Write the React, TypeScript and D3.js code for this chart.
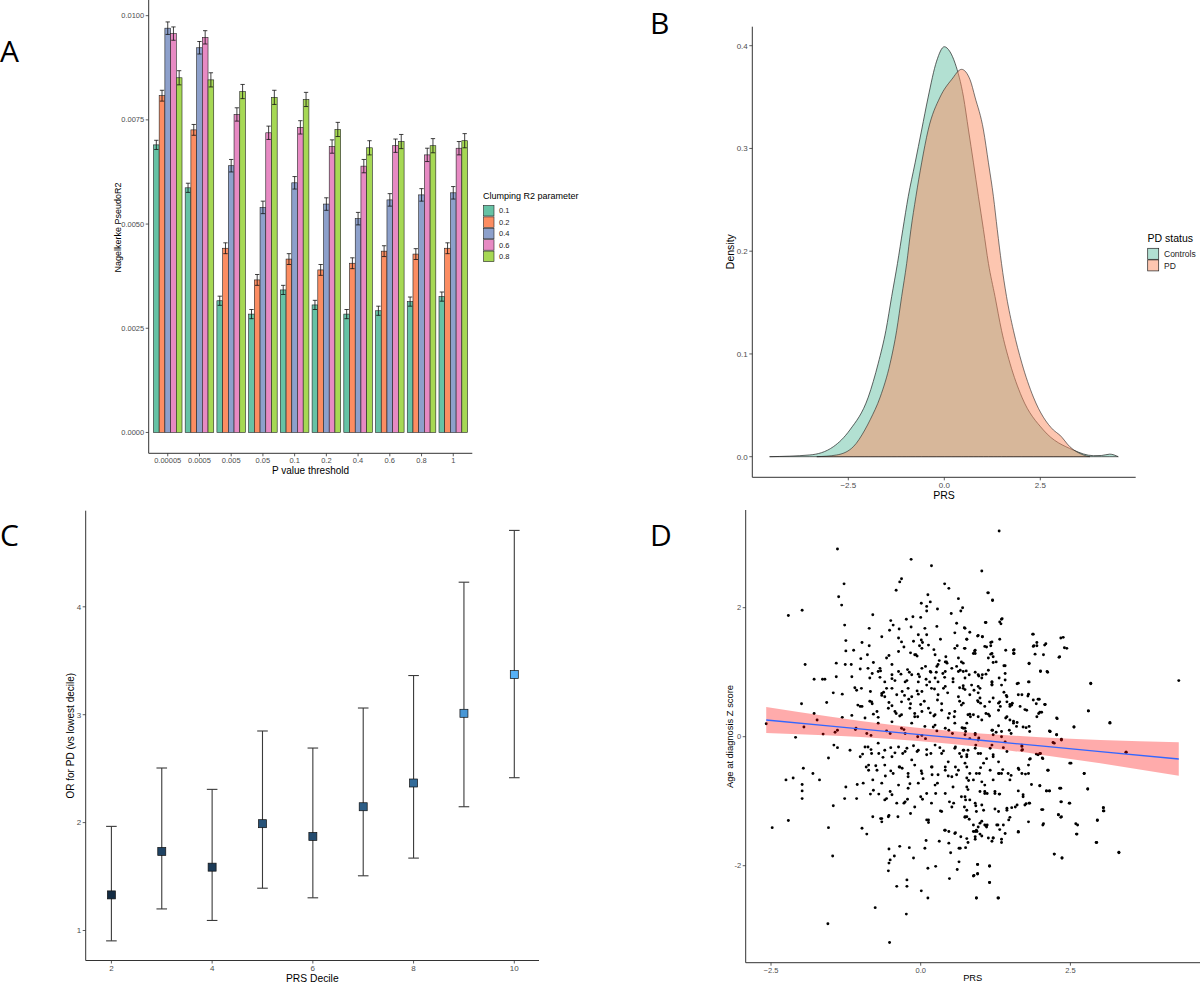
import React from "react";
import * as d3 from "d3";

const FONT = "'Liberation Sans', Arial, Helvetica, sans-serif";
const TICK_COL = "#4D4D4D";
const AXIS_COL = "#333333";

// ---------- Panel A ----------
const thresholds = ["0.00005", "0.0005", "0.005", "0.05", "0.1", "0.2", "0.4", "0.6", "0.8", "1"];
const clumpLevels = ["0.1", "0.2", "0.4", "0.6", "0.8"];
const r2Clump01 = [0.0069, 0.00587, 0.00316, 0.00284, 0.00342, 0.00306, 0.00284, 0.00292, 0.00314, 0.00326];
const r2Clump02 = [0.00808, 0.00726, 0.00442, 0.00366, 0.00416, 0.0039, 0.00406, 0.00435, 0.00428, 0.00442];
const r2Clump04 = [0.0097, 0.00923, 0.0064, 0.0054, 0.00599, 0.00548, 0.00513, 0.00558, 0.0057, 0.00575];
const r2Clump06 = [0.00957, 0.00948, 0.00763, 0.00719, 0.00732, 0.00686, 0.00639, 0.00688, 0.00666, 0.00682];
const r2Clump08 = [0.00851, 0.00846, 0.00818, 0.00804, 0.00799, 0.00727, 0.00683, 0.00698, 0.00688, 0.007];
const r2Se = [0.00011, 0.00013, 0.00015, 0.00016, 0.00017];
const r2Ticks = [0, 0.0025, 0.005, 0.0075, 0.01];
const clumpColors = ["#66C2A5", "#FC8D62", "#8DA0CB", "#E78AC3", "#A6D854"];

// ---------- Panel B ----------
const densControlsX = [-4.55, -3.5, -2.89, -2.46, -1.98, -1.72, -1.52, -1.37, -1.22, -1.08, -0.94, -0.76, -0.59, -0.42, -0.2, 0.0, 0.15, 0.28, 0.5, 0.63, 0.76, 0.89, 1.02, 1.15, 1.32, 1.49, 1.71, 2.02, 2.58, 3.36, 3.88, 4.1, 4.31, 4.53];
const densControlsY = [0, 0.0017, 0.0097, 0.026, 0.058, 0.091, 0.123, 0.156, 0.188, 0.221, 0.253, 0.286, 0.318, 0.35, 0.385, 0.399, 0.394, 0.383, 0.35, 0.318, 0.286, 0.253, 0.221, 0.188, 0.156, 0.123, 0.091, 0.058, 0.026, 0.0065, 0.001, 0.0012, 0.0025, 0];
const densPdX = [-3.32, -2.8, -2.37, -2.07, -1.93, -1.67, -1.41, -1.24, -1.11, -0.98, -0.87, -0.74, -0.59, -0.42, -0.11, 0.19, 0.45, 0.67, 0.8, 1.02, 1.15, 1.28, 1.38, 1.49, 1.62, 1.8, 2.02, 2.32, 2.84, 3.01, 3.27, 3.62, 3.79];
const densPdY = [0, 0.0017, 0.0097, 0.026, 0.036, 0.058, 0.091, 0.123, 0.156, 0.188, 0.221, 0.253, 0.286, 0.318, 0.35, 0.367, 0.377, 0.367, 0.35, 0.318, 0.286, 0.253, 0.221, 0.188, 0.156, 0.123, 0.091, 0.058, 0.026, 0.021, 0.0097, 0.0017, 0];
const densXTicks = [-2.5, 0, 2.5];
const densYTicks = [0, 0.1, 0.2, 0.3, 0.4];
const pdGroups = ["Controls", "PD"];
const pdColors = ["#66C2A5", "#FC8D62"];

// ---------- Panel C ----------
const deciles = [2, 3, 4, 5, 6, 7, 8, 9, 10];
const orEst = [1.33, 1.733, 1.587, 1.99, 1.872, 2.147, 2.367, 3.013, 3.372];
const orLo = [0.904, 1.2, 1.093, 1.392, 1.303, 1.507, 1.671, 2.147, 2.416];
const orHi = [1.965, 2.506, 2.308, 2.849, 2.691, 3.062, 3.363, 4.228, 4.708];
const decileTicks = [2, 4, 6, 8, 10];
const orTicks = [1, 2, 3, 4];

// ---------- Panel D ----------
const scatterOuter: [number, number][] = [
  [1.31, 3.19], [-1.39, 2.91], [-0.16, 2.75], [0.18, 2.65], [1.02, 2.57], [-0.32, 2.45], [-0.35, 2.4], [0.4, 2.37], [0.47, 2.3], [-1.28, 2.37], [-0.41, 2.27], [1.12, 2.23], [0.12, 2.2], [-1.37, 2.17], [0.63, 2.14], [1.2, 2.12], [-1.32, 2.04], [-1.98, 1.96], [0.01, 2.07], [0.16, 2.09], [0.7, 2.0], [0.67, 1.95], [0.28, 1.98], [-2.21, 1.88], [0.1, 1.95], [0.1, 2.02], [0.51, 1.91], [1.36, 1.83], [1.34, 1.75], [-0.13, 1.86], [-0.24, 1.82], [0.0, 1.85], [1.08, 1.77], [-0.5, 1.8], [-0.46, 1.73], [-1.27, 1.73], [0.6, 1.76], [0.27, 1.71], [-0.16, 1.7], [-0.86, 1.68], [-0.36, 1.67], [-0.52, 1.65], [-0.8, 1.89], [0.73, 1.69], [1.87, 1.59], [2.34, 1.53], [0.57, 1.61], [1.03, 1.55], [0.95, 1.56], [0.77, 1.51], [0.1, 1.58], [-0.65, 1.55], [-0.37, 1.53], [0.01, 1.5], [0.03, 1.46], [-1.25, 1.49], [0.33, 1.51], [-0.12, 1.48], [1.19, 1.47], [1.17, 1.41], [1.94, 1.46], [1.89, 1.41], [2.09, 1.44], [-0.98, 1.46], [2.4, 1.38], [1.42, 1.34], [1.56, 1.35], [1.55, 1.29], [-0.86, 1.41], [-1.25, 1.33], [-1.12, 1.34], [0.61, 1.41], [0.74, 1.37], [-0.02, 1.41], [-0.28, 1.39], [1.1, 1.39], [0.22, 1.35], [0.9, 1.33], [0.91, 1.29], [-0.17, 1.3], [1.91, 1.28], [2.05, 1.27], [2.32, 1.24], [-0.57, 1.22], [-0.53, 1.26], [-0.89, 1.27], [0.42, 1.24], [-0.08, 1.27], [-0.06, 1.25], [1.17, 1.28], [1.21, 1.15], [-1.0, 1.21], [0.31, 1.18], [0.29, 1.12], [0.41, 1.16], [0.44, 1.14], [-1.41, 1.14], [-1.26, 1.12], [-1.16, 1.12], [-0.48, 1.12], [-1.93, 1.12], [-0.79, 1.15], [0.08, 1.09], [0.6, 1.09], [0.66, 1.03], [1.39, 1.1], [1.81, 1.13], [2.0, 1.01], [2.12, 1.0], [1.09, 0.97], [-1.01, 1.05], [-0.88, 1.06], [-0.68, 1.06], [-0.67, 1.02], [-0.22, 1.04], [-0.19, 1.0], [-0.33, 0.97], [-0.04, 0.97], [-0.02, 0.93], [0.17, 1.0], [0.26, 1.0], [0.37, 0.98], [0.4, 0.92], [0.76, 1.02], [0.81, 0.96], [0.97, 0.94], [1.03, 0.96], [-0.81, 0.98], [-0.68, 0.92], [1.31, 0.91], [-1.15, 0.93], [-1.64, 0.89], [-1.6, 0.89], [-1.78, 0.89], [-1.41, 0.93], [-0.48, 0.9], [-0.43, 0.87], [-0.23, 0.87], [0.09, 0.89], [0.15, 0.85], [0.54, 0.9], [1.19, 0.85], [1.19, 0.81], [1.8, 0.85], [2.84, 0.83], [4.31, 0.87], [1.61, 0.82],
  [-1.1, 0.76], [-1.07, 0.72], [-0.99, 0.75], [-0.84, 0.7], [-0.62, 0.69], [-0.65, 0.64], [-0.57, 0.75], [-0.31, 0.7], [-0.27, 0.64], [-0.06, 0.71], [-0.04, 0.66], [0.23, 0.74], [0.38, 0.75], [0.45, 0.68], [0.65, 0.76], [0.89, 0.72], [0.96, 0.68], [1.39, 0.69], [1.43, 0.64], [1.63, 0.65], [1.79, 0.63], [-1.46, 0.68], [-1.31, 0.66], [-1.57, 0.53], [-1.99, 0.51], [1.98, 0.58], [1.93, 0.51], [2.07, 0.5], [2.8, 0.4], [-1.05, 0.49], [-0.98, 0.47], [-0.85, 0.55], [-0.81, 0.51], [-0.53, 0.53], [-0.48, 0.48], [-0.2, 0.58], [-0.17, 0.51], [0.06, 0.55], [0.0, 0.5], [0.28, 0.57], [0.35, 0.51], [0.65, 0.55], [0.71, 0.52], [0.95, 0.56], [1.0, 0.52], [1.15, 0.54], [1.3, 0.52], [1.33, 0.47], [1.49, 0.5], [1.53, 0.52], [1.74, 0.42], [1.97, 0.36], [2.02, 0.38], [-1.78, 0.36], [-1.73, 0.26], [-1.31, 0.3], [-1.15, 0.33], [-0.79, 0.35], [-0.71, 0.3], [-0.41, 0.36], [-0.35, 0.32], [-0.1, 0.36], [-0.05, 0.31], [0.16, 0.37], [0.22, 0.32], [0.48, 0.36], [0.56, 0.31], [0.82, 0.35], [0.83, 0.31], [1.09, 0.36], [1.15, 0.32], [1.42, 0.29], [1.61, 0.22], [1.55, 0.24], [1.81, 0.16], [2.28, 0.28], [3.16, 0.22], [2.56, 0.15], [-2.58, 0.2], [-1.95, 0.15], [-1.63, 0.04], [-2.09, -0.01], [-1.43, 0.07], [-1.39, 0.1], [-1.09, 0.11], [-1.08, 0.13], [-0.9, 0.05], [-0.83, 0.02], [-0.57, 0.09], [-0.51, 0.05], [-0.28, 0.11], [-0.26, 0.05], [-0.05, 0.0], [0.02, 0.02], [0.08, -0.03], [0.21, 0.15], [0.27, 0.09], [0.47, 0.1], [0.53, 0.05], [0.69, 0.14], [0.75, 0.08], [0.91, 0.05], [0.97, -0.02], [1.2, 0.1], [1.26, 0.07], [1.48, 0.1], [1.51, 0.05], [1.76, 0.14], [2.15, 0.09], [2.21, -0.09], [2.35, -0.04], [3.43, -0.24], [2.51, -0.41], [2.73, -0.57], [2.79, -0.81],
];
const scatterLower: [number, number][] = [
  [-1.45, -0.13], [-1.39, -0.17], [-1.54, -0.33], [-1.18, -0.21], [-1.01, -0.31], [-0.97, -0.27], [-0.88, -0.16], [-0.83, -0.2], [-0.7, -0.26], [-0.63, -0.32], [-0.5, -0.17], [-0.43, -0.25], [-0.3, -0.26], [-0.23, -0.18], [-0.12, -0.14], [-0.06, -0.23], [0.1, -0.2], [0.17, -0.26], [0.32, -0.17], [0.38, -0.22], [0.58, -0.16], [0.65, -0.26], [0.72, -0.21], [0.77, -0.31], [0.92, -0.13], [1.0, -0.26], [1.16, -0.18], [1.21, -0.31], [1.38, -0.17], [1.44, -0.23], [1.69, -0.15], [1.7, -0.2], [1.96, -0.28], [2.0, -0.26], [2.04, -0.34], [1.83, -0.34], [-1.96, -0.49], [-2.25, -0.67], [-2.13, -0.64], [-1.98, -0.74], [-1.98, -0.84], [-1.98, -0.96], [-1.8, -0.57], [-1.69, -0.67], [-1.25, -0.78], [-1.27, -0.96], [-1.06, -0.74], [-1.07, -0.96], [-0.91, -0.47], [-0.87, -0.52], [-0.75, -0.45], [-0.8, -0.67], [-0.59, -0.61], [-0.5, -0.53], [-0.36, -0.47], [-0.31, -0.49], [-0.21, -0.57], [-0.18, -0.73], [0.01, -0.53], [0.04, -0.65], [0.19, -0.47], [0.19, -0.59], [0.28, -0.72], [0.41, -0.52], [0.46, -0.61], [0.58, -0.47], [0.6, -0.59], [0.77, -0.47], [0.8, -0.68], [1.0, -0.48], [0.98, -0.57], [1.16, -0.52], [1.21, -0.67], [1.31, -0.57], [1.37, -0.51], [1.51, -0.6], [1.64, -0.51], [1.75, -0.58], [2.13, -0.52], [2.1, -0.84], [2.15, -0.84], [1.99, -0.76], [2.32, -0.8], [-0.84, -0.89], [-0.7, -0.89], [-0.57, -0.96], [-0.48, -0.9], [-0.28, -1.03], [-0.22, -0.97], [0.0, -0.93], [0.03, -0.97], [0.25, -0.88], [0.33, -1.15], [0.48, -1.01], [0.55, -1.03], [0.75, -0.98], [0.73, -1.09], [0.92, -1.07], [1.07, -0.85], [1.11, -0.88], [1.24, -0.88], [1.32, -0.89], [1.44, -1.11], [1.58, -1.09], [1.71, -0.9], [1.76, -1.04], [1.81, -1.03], [2.04, -1.13], [2.35, -1.01], [2.48, -1.03], [3.05, -1.1], [3.06, -1.15], [2.95, -1.3], [2.59, -1.35], [2.61, -1.51], [2.3, -1.21], [2.35, -1.24], [2.05, -1.35], [-1.46, -1.07], [-2.21, -1.3], [-2.48, -1.41], [-1.54, -1.41], [-1.47, -1.85], [-1.55, -2.9], [-0.98, -1.42], [-0.9, -1.51], [-0.8, -1.24], [-0.67, -1.27], [-0.65, -1.32], [-0.53, -1.22], [-0.38, -1.24], [-0.17, -1.19], [0.1, -1.29], [0.13, -1.33], [0.4, -1.45], [0.47, -1.47], [0.58, -1.49], [0.67, -1.55], [0.77, -1.24], [0.81, -1.28], [0.91, -1.47], [0.94, -1.47], [0.99, -1.34], [1.02, -1.31], [1.09, -1.38], [1.11, -1.37], [1.21, -1.57], [1.29, -1.37], [1.35, -1.64], [1.47, -1.29], [1.63, -1.48], [2.93, -1.64], [3.31, -1.79], [2.23, -1.82], [2.36, -1.88], [-0.53, -1.74], [-0.51, -1.91], [-0.53, -1.96], [-0.44, -1.85], [-0.35, -1.7], [-0.19, -1.72], [-0.12, -1.88], [0.07, -1.73], [0.09, -1.61], [0.31, -1.62], [0.47, -1.65], [0.5, -1.8], [0.64, -1.73], [0.64, -1.94], [0.75, -1.72], [0.12, -2.04], [0.25, -2.01], [-0.54, -2.08], [0.61, -2.06], [0.95, -1.98], [0.95, -2.12], [0.89, -2.15], [1.15, -2.01], [0.48, -2.2], [-0.23, -2.22], [-0.4, -2.32], [-0.23, -2.32], [0.01, -2.39], [1.15, -2.26], [0.12, -2.5], [0.93, -2.5], [1.29, -2.5], [-0.76, -2.65], [-0.24, -2.75], [-0.52, -3.19],
];
const scatterCoreUpper: [number, number][] = [
  [-0.65, 0.67], [-0.6, 0.62], [-0.48, 0.75], [-0.4, 0.65], [-0.32, 0.54], [-0.21, 0.75], [-0.15, 0.62], [-0.04, 0.85], [0.02, 0.7], [0.1, 0.8], [0.18, 0.75], [0.24, 0.91], [0.29, 0.65], [0.41, 0.78], [0.43, 1.16], [0.52, 1.06], [0.63, 0.62], [0.71, 0.75], [-0.54, 0.44], [-0.43, 0.39], [-0.32, 0.34], [-0.18, 0.44], [-0.1, 0.31], [0.02, 0.39], [0.13, 0.44], [0.24, 0.34], [0.35, 0.41], [0.46, 0.29], [0.57, 0.39], [0.68, 0.49], [0.79, 0.34], [-1.01, 0.47], [-0.82, 0.54], [-0.73, 0.39], [-0.93, 0.29], [-0.71, 0.21], [-0.48, 0.23], [-0.32, 0.13], [-0.15, 0.21], [0.07, 0.16], [0.24, 0.18], [0.41, 0.13], [0.57, 0.21], [0.74, 0.13], [-0.48, 0.96], [-0.37, 1.01], [-0.26, 0.85], [-0.15, 0.96], [0.02, 1.06], [0.16, 1.01], [0.27, 1.09], [0.29, 0.85], [0.41, 1.01], [0.54, 0.85], [0.63, 1.01], [0.74, 0.91], [0.85, 0.8], [-0.71, 1.01], [-0.6, 0.85], [-0.85, 0.91], [-0.1, 1.27], [0.02, 1.37], [0.13, 1.42], [0.24, 1.27], [-0.04, 1.58], [0.07, 1.68], [-0.32, 1.47], [-0.37, 1.32], [0.57, 1.37], [0.63, 1.22], [0.68, 1.16],
  [0.74, 1.68], [0.82, 1.62], [0.96, 1.57], [1.03, 1.55], [0.77, 1.51], [1.09, 1.77], [1.17, 1.46], [1.32, 1.51], [0.73, 1.37], [0.91, 1.34], [0.88, 1.29], [1.07, 1.4], [1.19, 1.29], [1.21, 1.24], [1.26, 1.16], [1.13, 1.22], [0.71, 1.14], [0.91, 1.0], [0.96, 0.96], [1.13, 1.03], [1.41, 1.1], [1.41, 0.98], [0.71, 1.01], [1.02, 0.91], [1.41, 0.88], [1.19, 0.85], [1.19, 0.8], [1.35, 0.8], [1.63, 0.83], [1.81, 0.85], [0.71, 0.79], [0.74, 0.73], [0.96, 0.78], [0.99, 0.75], [0.82, 0.65], [0.99, 0.6], [0.96, 0.54], [1.21, 0.6], [1.32, 0.54], [1.3, 0.41], [1.44, 0.62], [1.44, 0.54], [1.52, 0.49], [1.49, 0.47], [1.69, 0.65], [1.8, 0.66], [1.66, 0.47], [1.88, 0.57], [1.96, 0.58], [1.77, 0.41], [1.94, 0.31], [1.99, 0.38], [2.08, 0.5], [2.27, 0.29], [1.07, 0.47], [1.13, 0.35], [0.88, 0.34], [0.96, 0.31], [0.77, 0.21], [0.71, 0.13], [1.02, 0.26], [1.19, 0.1], [1.44, 0.31], [1.49, 0.26], [1.55, 0.21], [1.6, 0.16], [1.71, 0.15], [1.3, 0.17], [1.35, 0.08], [2.16, 0.08], [2.27, 0.03], [2.56, 0.15], [2.8, 0.4], [2.84, 0.82], [3.16, 0.21], [2.38, 1.54], [2.44, 1.37], [2.31, 1.23], [1.88, 1.59], [1.88, 1.4], [1.94, 1.41], [2.07, 1.42], [2.0, 1.02], [2.11, 1.01], [1.81, 1.14], [1.55, 1.34], [1.56, 1.29], [1.32, 1.78], [1.35, 1.82], [1.13, 2.23], [1.2, 2.11],
];
const scatterCoreLower: [number, number][] = [
  [-0.93, -0.16], [-0.82, -0.26], [-0.71, -0.1], [-0.6, -0.21], [-0.48, -0.31], [-0.37, -0.16], [-0.26, -0.23], [-0.15, -0.36], [-0.04, -0.21], [0.1, -0.28], [0.24, -0.13], [0.35, -0.26], [0.46, -0.39], [0.57, -0.18], [0.68, -0.31], [0.79, -0.21], [-0.87, -0.44], [-0.73, -0.52], [-0.6, -0.44], [-0.46, -0.57], [-0.35, -0.47], [-0.21, -0.62], [-0.1, -0.44], [0.02, -0.57], [0.18, -0.47], [0.29, -0.59], [0.41, -0.47], [0.52, -0.62], [0.63, -0.52], [0.77, -0.64], [-0.96, -0.72], [-0.79, -0.83], [-0.65, -0.72], [-0.51, -0.85], [-0.37, -0.75], [-0.21, -0.8], [-0.04, -0.72], [0.1, -0.88], [0.24, -0.75], [0.41, -0.88], [0.54, -0.78], [0.68, -0.93], [-0.6, -0.98], [-0.4, -1.03], [-0.26, -1.01], [-0.1, -1.09], [0.18, -1.03], [0.35, -1.16], [0.52, -1.09], [0.74, -1.24], [-0.65, -1.27], [-0.54, -1.24], [0.13, -1.29], [0.41, -1.45], [0.57, -1.5], [0.77, -1.58],
  [0.71, -0.21], [0.77, -0.28], [0.74, -0.41], [0.91, -0.18], [0.96, -0.26], [1.05, -0.41], [1.1, -0.34], [1.21, -0.28], [1.3, -0.39], [0.82, -0.57], [0.88, -0.67], [0.93, -0.57], [1.02, -0.7], [1.07, -0.75], [1.3, -0.57], [1.35, -0.57], [1.46, -0.57], [1.49, -0.67], [1.63, -0.49], [1.69, -0.57], [1.8, -0.44], [1.8, -0.57], [1.82, -0.35], [1.93, -0.27], [1.99, -0.26], [2.03, -0.33], [2.12, -0.52], [2.49, -0.41], [2.73, -0.57], [0.77, -0.78], [0.79, -0.82], [0.99, -0.85], [1.07, -0.88], [1.24, -0.85], [1.31, -0.89], [1.63, -0.84], [1.71, -0.93], [1.85, -0.74], [1.99, -0.76], [2.1, -0.84], [2.15, -0.84], [2.34, -0.8], [2.79, -0.81], [0.74, -0.93], [0.82, -0.98], [0.91, -1.03], [1.02, -1.06], [0.77, -1.14], [0.74, -1.25], [0.93, -1.16], [1.05, -1.14], [1.24, -1.12], [1.3, -1.16], [1.44, -1.14], [1.52, -1.1], [1.61, -1.06], [1.74, -1.06], [1.82, -1.03], [2.02, -1.13], [2.34, -1.01], [2.49, -1.03], [1.49, -1.25], [1.8, -1.32], [2.04, -1.37], [2.3, -1.21], [2.34, -1.25], [2.62, -1.37], [2.6, -1.51], [2.95, -1.29], [3.05, -1.1], [3.05, -1.15], [2.94, -1.64], [3.31, -1.8], [2.23, -1.82], [2.36, -1.88], [0.88, -1.37], [0.96, -1.4], [1.07, -1.37], [1.1, -1.4], [1.27, -1.37], [1.38, -1.37], [1.32, -1.44], [1.41, -1.5], [1.63, -1.47], [0.88, -1.47], [0.93, -1.45], [0.99, -1.51], [0.91, -1.55], [1.02, -1.54], [1.13, -1.57], [1.21, -1.57], [0.79, -1.64], [0.91, -1.59], [1.19, -1.62], [1.35, -1.59], [0.66, -1.73], [0.95, -1.98], [1.15, -2.0], [0.88, -2.16], [0.95, -2.13], [1.15, -2.26], [0.93, -2.5], [1.3, -2.5],
  [0.74, 0.03], [0.82, -0.03], [0.91, 0.03], [0.96, -0.05], [1.21, 0.03], [1.19, -0.13], [1.35, 0.0], [1.41, -0.08], [1.69, -0.13], [1.69, -0.21], [1.82, 0.08], [2.16, 0.08], [2.27, 0.03], [2.35, -0.05], [2.23, -0.1], [3.43, -0.24],
];

// regression fit and confidence band
const fitX = [-2.58, -1.5, -0.5, 0.3, 1.0, 2.0, 3.0, 4.31];
const fitY = [0.259, 0.164, 0.076, 0.006, -0.055, -0.143, -0.231, -0.346];
const fitLo = [0.059, 0.019, -0.034, -0.094, -0.16, -0.278, -0.411, -0.606];
const fitHi = [0.459, 0.309, 0.186, 0.106, 0.05, -0.008, -0.051, -0.086];
const prsTicksD = [-2.5, 0, 2.5];
const zTicksD = [-2, 0, 2];

const fmt1 = (v: number) => d3.format(".1f")(v);

function YAxis({ scale, ticks, x, y0, y1, fmt, fs = 8 }: any) {
  return (
    <g>
      <line x1={x} x2={x} y1={y0} y2={y1} stroke={AXIS_COL} strokeWidth={1} />
      {ticks.map((t: number) => (
        <g key={t}>
          <line x1={x - 3} x2={x} y1={scale(t)} y2={scale(t)} stroke={AXIS_COL} strokeWidth={0.8} />
          <text x={x - 4.5} y={scale(t)} dy="0.35em" textAnchor="end" fontSize={fs} fill={TICK_COL} fontFamily={FONT}>
            {fmt(t)}
          </text>
        </g>
      ))}
    </g>
  );
}

function XAxis({ scale, ticks, y, x0, x1, fmt, fs = 8, pos }: any) {
  return (
    <g>
      <line x1={x0} x2={x1} y1={y} y2={y} stroke={AXIS_COL} strokeWidth={1} />
      {ticks.map((t: any) => {
        const px = pos ? pos(t) : scale(t);
        return (
          <g key={String(t)}>
            <line x1={px} x2={px} y1={y} y2={y + 3} stroke={AXIS_COL} strokeWidth={0.8} />
            <text x={px} y={y + 4} dy="0.8em" textAnchor="middle" fontSize={fs} fill={TICK_COL} fontFamily={FONT}>
              {fmt(t)}
            </text>
          </g>
        );
      })}
    </g>
  );
}

function PanelA() {
  const x = d3.scaleBand().domain(thresholds).range([148.7, 472.3]).paddingInner(0.1).paddingOuter(0.15);
  const xi = d3.scaleBand().domain(clumpLevels).range([0, x.bandwidth()]);
  const y = d3.scaleLinear().domain([-0.0005, 0.0104]).range([453.3, -1]);
  const series = [r2Clump01, r2Clump02, r2Clump04, r2Clump06, r2Clump08];
  const bw = xi.bandwidth();
  return (
    <g>
      {series.map((vals, si) =>
        vals.map((v, ti) => {
          const bx = (x(thresholds[ti]) as number) + (xi(clumpLevels[si]) as number);
          return (
            <rect key={`b${si}-${ti}`} x={bx} y={y(v)} width={bw} height={y(0) - y(v)} fill={clumpColors[si]} stroke="#222" strokeWidth={0.6} />
          );
        })
      )}
      {series.map((vals, si) =>
        vals.map((v, ti) => {
          const cx = (x(thresholds[ti]) as number) + (xi(clumpLevels[si]) as number) + bw / 2;
          const hw = bw * 0.38;
          const top = y(v + r2Se[si]);
          const bot = y(v - r2Se[si]);
          return (
            <g key={`e${si}-${ti}`} stroke="#111" strokeWidth={0.8}>
              <line x1={cx} x2={cx} y1={top} y2={bot} />
              <line x1={cx - hw} x2={cx + hw} y1={top} y2={top} />
              <line x1={cx - hw} x2={cx + hw} y1={bot} y2={bot} />
            </g>
          );
        })
      )}
      <YAxis scale={y} ticks={r2Ticks} x={148.7} y0={0} y1={453.3} fmt={(t: number) => d3.format(".4f")(t)} fs={7.5} />
      <XAxis scale={x} ticks={thresholds} y={453.3} x0={148.7} x1={472.3} fmt={(t: string) => t} fs={7.5}
        pos={(t: string) => (x(t) as number) + x.bandwidth() / 2} />
      <text x={310.5} y={474} textAnchor="middle" fontSize={10} fontFamily={FONT} fill="#000">P value threshold</text>
      <text transform="translate(120.5,227.5) rotate(-90)" textAnchor="middle" fontSize={9} fontFamily={FONT} fill="#000">Nagelkerke PseudoR2</text>
      <text x={483} y={199} fontSize={9} fontFamily={FONT} fill="#000">Clumping R2 parameter</text>
      {clumpLevels.map((c, i) => (
        <g key={c}>
          <rect x={483.5} y={205.5 + i * 11.4} width={10.5} height={10.5} fill={clumpColors[i]} stroke="#222" strokeWidth={0.6} />
          <text x={499} y={210.75 + i * 11.4} dy="0.35em" fontSize={7.5} fontFamily={FONT} fill="#222">{c}</text>
        </g>
      ))}
    </g>
  );
}

function PanelB() {
  const x = d3.scaleLinear().domain([-2.5, 2.5]).range([848.3, 1040.3]);
  const y = d3.scaleLinear().domain([0, 0.4]).range([456.7, 45.7]);
  const area = d3.area<number>().curve(d3.curveMonotoneX);
  const mk = (xs: number[], ys: number[]) =>
    area.x((_, i) => x(xs[i])).y0(y(0)).y1((_, i) => y(ys[i]))(xs) as string;
  return (
    <g>
      <path d={mk(densControlsX, densControlsY)} fill={pdColors[0]} fillOpacity={0.5} stroke="#222" strokeWidth={0.7} />
      <path d={mk(densPdX, densPdY)} fill={pdColors[1]} fillOpacity={0.5} stroke="#222" strokeWidth={0.7} strokeOpacity={0.85} />
      <YAxis scale={y} ticks={densYTicks} x={752.3} y0={26.7} y1={477.3} fmt={fmt1} fs={8} />
      <XAxis scale={x} ticks={densXTicks} y={477.3} x0={752.3} x1={1135.7} fmt={fmt1} fs={8} />
      <text x={944} y={499} textAnchor="middle" fontSize={10.5} fontFamily={FONT} fill="#000">PRS</text>
      <text transform="translate(733.5,251.7) rotate(-90)" textAnchor="middle" fontSize={10.5} fontFamily={FONT} fill="#000">Density</text>
      <text x={1147.5} y={242} fontSize={10.5} fontFamily={FONT} fill="#000">PD status</text>
      {pdGroups.map((g, i) => (
        <g key={g}>
          <rect x={1147.7} y={248.3 + i * 11.6} width={11} height={11} fill={pdColors[i]} fillOpacity={0.5} stroke="#222" strokeWidth={0.7} />
          <text x={1164} y={254 + i * 11.6} dy="0.35em" fontSize={8.5} fontFamily={FONT} fill="#222">{g}</text>
        </g>
      ))}
    </g>
  );
}

function PanelC() {
  const x = d3.scaleLinear().domain([2, 10]).range([111.4, 514.3]);
  const y = d3.scaleLinear().domain([1, 4]).range([930.5, 606.8]);
  const col = d3.scaleLinear<string>().domain([d3.min(orEst) as number, d3.max(orEst) as number])
    .range(["#132B43", "#56B1F7"]).interpolate(d3.interpolateLab);
  const cap = 5.3;
  const sz = 8;
  return (
    <g>
      {deciles.map((d, i) => (
        <g key={`eb${d}`} stroke="#3a3a3a" strokeWidth={1.1}>
          <line x1={x(d)} x2={x(d)} y1={y(orHi[i])} y2={y(orLo[i])} />
          <line x1={x(d) - cap} x2={x(d) + cap} y1={y(orHi[i])} y2={y(orHi[i])} />
          <line x1={x(d) - cap} x2={x(d) + cap} y1={y(orLo[i])} y2={y(orLo[i])} />
        </g>
      ))}
      {deciles.map((d, i) => (
        <rect key={`pt${d}`} x={x(d) - sz / 2} y={y(orEst[i]) - sz / 2} width={sz} height={sz} fill={col(orEst[i])} stroke="#111" strokeWidth={0.7} />
      ))}
      <YAxis scale={y} ticks={orTicks} x={85.7} y0={510.7} y1={960.5} fmt={(t: number) => String(t)} fs={8} />
      <XAxis scale={x} ticks={decileTicks} y={960.5} x0={85.7} x1={539} fmt={(t: number) => String(t)} fs={8} />
      <text x={312.3} y={981.5} textAnchor="middle" fontSize={10.3} fontFamily={FONT} fill="#000">PRS Decile</text>
      <text transform="translate(74,735.7) rotate(-90)" textAnchor="middle" fontSize={10} fontFamily={FONT} fill="#000">OR for PD (vs lowest decile)</text>
    </g>
  );
}

function PanelD() {
  const x = d3.scaleLinear().domain([-2.5, 2.5]).range([771, 1070.4]);
  const y = d3.scaleLinear().domain([-2, 2]).range([865.7, 607.7]);
  const pts = [...scatterOuter, ...scatterLower, ...scatterCoreUpper, ...scatterCoreLower];
  const band = d3.area<number>().x((_, i) => x(fitX[i])).y0((_, i) => y(fitLo[i])).y1((_, i) => y(fitHi[i])).curve(d3.curveMonotoneX);
  const line = d3.line<number>().x((_, i) => x(fitX[i])).y((_, i) => y(fitY[i]));
  return (
    <g>
      {pts.map((p, i) => (
        <circle key={i} cx={x(p[0])} cy={y(p[1])} r={1.45} fill="#000" />
      ))}
      <path d={band(fitX) as string} fill="#FF0000" fillOpacity={0.33} stroke="none" />
      <path d={line(fitX) as string} fill="none" stroke="#3366FF" strokeWidth={1.3} />
      <YAxis scale={y} ticks={zTicksD} x={745.7} y0={510} y1={962.7} fmt={(t: number) => String(t)} fs={7.5} />
      <XAxis scale={x} ticks={prsTicksD} y={962.7} x0={745.7} x1={1200} fmt={fmt1} fs={7.5} />
      <text x={972.7} y={981} textAnchor="middle" fontSize={9.3} fontFamily={FONT} fill="#000">PRS</text>
      <text transform="translate(732.5,736.5) rotate(-90)" textAnchor="middle" fontSize={9.4} fontFamily={FONT} fill="#000">Age at diagnosis Z score</text>
    </g>
  );
}

export default function App() {
  const labelFont = "'Open Sans', 'Noto Sans', Arial, sans-serif";
  return (
    <svg width={1200} height={983} viewBox="0 0 1200 983" style={{ position: "absolute", left: 0, top: 0, background: "#fff" }}>
      <rect x={0} y={0} width={1200} height={983} fill="#fff" />
      <PanelA />
      <PanelB />
      <PanelC />
      <PanelD />
      <text x={0} y={62} fontSize={30} fontFamily={labelFont} fill="#000">A</text>
      <text x={650} y={34} fontSize={30} fontFamily={labelFont} fill="#000">B</text>
      <text x={0} y={546} fontSize={30} fontFamily={labelFont} fill="#000">C</text>
      <text x={650} y={546} fontSize={30} fontFamily={labelFont} fill="#000">D</text>
    </svg>
  );
}
